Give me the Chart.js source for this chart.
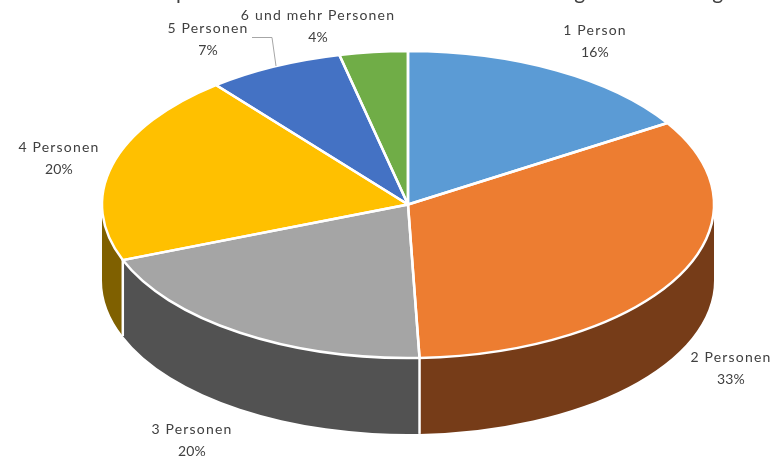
<!DOCTYPE html>
<html>
<head>
<meta charset="utf-8">
<title>Haushalte</title>
<script src="https://cdn.jsdelivr.net/npm/chart.js@4"></script>
<style>
  body { margin: 0; background: #fff; }
  canvas { display: block; }
</style>
</head>
<body>
<canvas id="grafico_torta" width="776" height="457"></canvas>
<script>
const categorias = ['1 Person', '2 Personen', '3 Personen', '4 Personen', '5 Personen', '6 und mehr Personen']
const valores = [16.1, 33.3, 19.7, 20.1, 7.2, 3.6]
const colores = ['#5B9BD5', '#ED7D31', '#A5A5A5', '#FFC000', '#4472C4', '#70AD47']
const coloresLado = ['#2F5F8C', '#763C18', '#525252', '#7F6000', '#264478', '#43682B']
const titulo = 'Haushalte pro Anzahl der Personen in diesen Wohnungen der Zählung'

// centro de cada etiqueta en pixeles (primera linea)
const posEtiquetas = [[595, 30], [731, 357], [192, 429], [59, 147], [208, 28], [318, 15]]

const centroX = 408
const centroY = 204.5
const radioX = 306
const radioY = 153.5
const alto3d = 76

const colorTexto = '#404040'
const fuente = '14px Lato'

const segmentos = (chart) => chart.getDatasetMeta(0).data

// cara lateral visible, solo la parte de adelante (0 a PI en el canvas)
const dibujarLados = (ctx, chart) => {
    const arcos = segmentos(chart)
    arcos.forEach((arco, i) => {
        const ini = Math.max(arco.startAngle, 0)
        const fin = Math.min(arco.endAngle, Math.PI)
        if (fin <= ini) return
        ctx.beginPath()
        ctx.ellipse(centroX, centroY, radioX, radioY, 0, ini, fin)
        ctx.ellipse(centroX, centroY + alto3d, radioX, radioY, 0, fin, ini, true)
        ctx.closePath()
        ctx.fillStyle = coloresLado[i]
        ctx.fill()
    })
    // lineas blancas verticales entre los lados
    ctx.strokeStyle = '#fff'
    ctx.lineWidth = 2.5
    arcos.forEach((arco) => {
        const a = arco.endAngle
        if (a <= 0 || a >= Math.PI) return
        const x = centroX + radioX * Math.cos(a)
        const y = centroY + radioY * Math.sin(a)
        ctx.beginPath()
        ctx.moveTo(x, y)
        ctx.lineTo(x, y + alto3d)
        ctx.stroke()
    })
}

const bordesBlancos = (ctx, chart) => {
    ctx.strokeStyle = '#fff'
    ctx.lineWidth = 2.5
    ctx.lineJoin = 'round'
    segmentos(chart).forEach((arco) => {
        ctx.beginPath()
        ctx.moveTo(centroX, centroY)
        ctx.ellipse(centroX, centroY, radioX, radioY, 0, arco.startAngle, arco.endAngle)
        ctx.closePath()
        ctx.stroke()
    })
}

const dibujarTextos = (ctx) => {
    ctx.save()
    ctx.fillStyle = colorTexto
    ctx.textAlign = 'left'
    ctx.textBaseline = 'alphabetic'
    ctx.font = '21px Lato'
    ctx.fillText(titulo, 78, -1)

    ctx.font = fuente
    ctx.textAlign = 'center'
    ctx.textBaseline = 'middle'
    categorias.forEach((nombre, i) => {
        const [x, y] = posEtiquetas[i]
        ctx.letterSpacing = '1.2px'
        ctx.fillText(nombre, x, y)
        ctx.letterSpacing = '0.2px'
        ctx.fillText(Math.round(valores[i]) + '%', x, y + 22)
    })
    ctx.restore()

    // linea guia de 5 Personen
    ctx.save()
    ctx.strokeStyle = '#A6A6A6'
    ctx.lineWidth = 1
    ctx.beginPath()
    ctx.moveTo(252, 37.5)
    ctx.lineTo(272, 37.5)
    ctx.lineTo(276, 66)
    ctx.stroke()
    ctx.restore()
}

const torta3d = {
    id: 'torta3d',
    beforeDatasetsDraw(chart) {
        const ctx = chart.ctx
        const arco = segmentos(chart)[0]
        dibujarLados(ctx, chart)
        // el circulo de la libreria se aplasta a elipse
        ctx.save()
        ctx.translate(centroX, centroY)
        ctx.scale(radioX / arco.outerRadius, radioY / arco.outerRadius)
        ctx.translate(-arco.x, -arco.y)
    },
    afterDatasetsDraw(chart) {
        const ctx = chart.ctx
        ctx.restore()
        bordesBlancos(ctx, chart)
        dibujarTextos(ctx)
    }
}

const ctx = document.getElementById('grafico_torta').getContext('2d')
const myChart = new Chart(ctx, {
    type: 'pie',
    data: {
        labels: categorias,
        datasets: [{
            data: valores,
            backgroundColor: colores,
            borderWidth: 0,
            clip: false
        }]
    },
    options: {
        responsive: false,
        animation: false,
        layout: { padding: { left: 40, bottom: 51 } },
        plugins: {
            legend: { display: false },
            tooltip: { enabled: false }
        }
    },
    plugins: [torta3d]
})
</script>
</body>
</html>
